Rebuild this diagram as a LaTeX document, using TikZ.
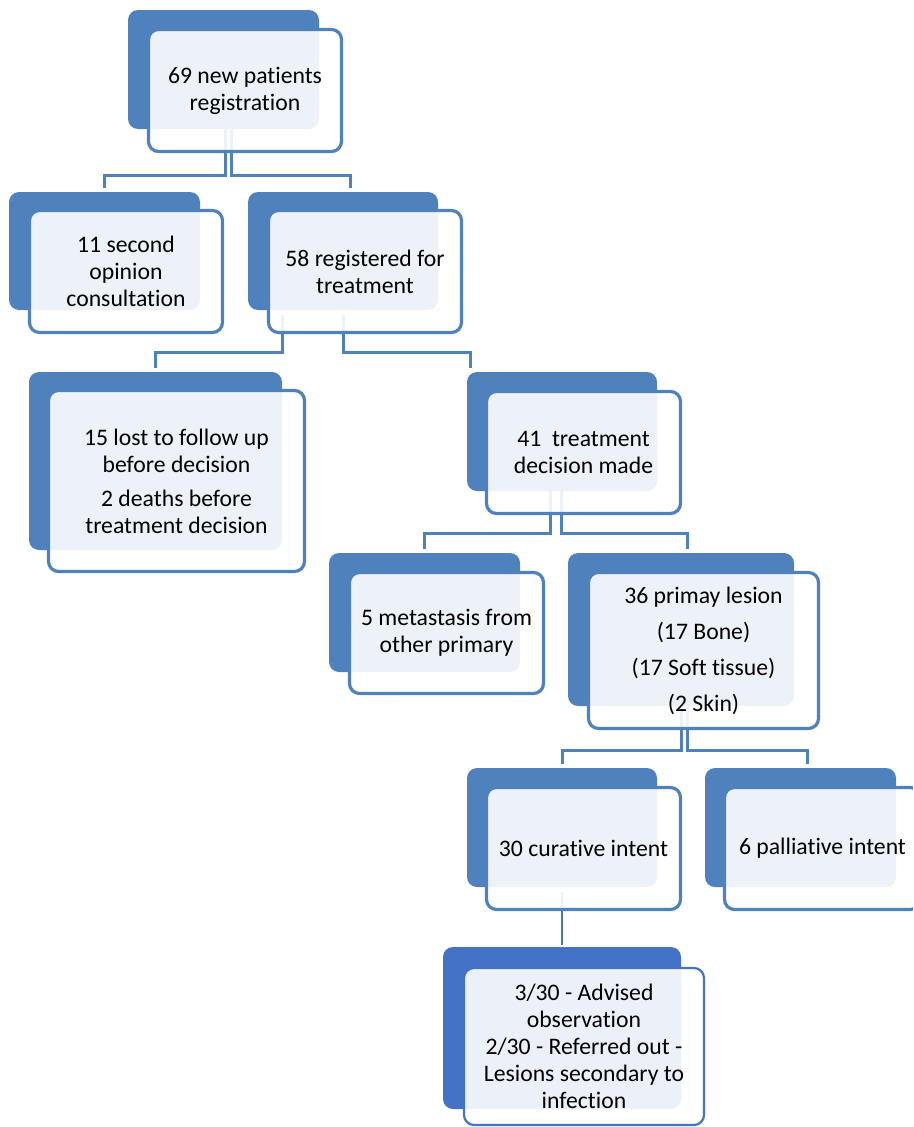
\documentclass[tikz,border=0pt]{standalone}
\usepackage{fontspec}
\setmainfont{Carlito}[Ligatures=NoCommon]
\usetikzlibrary{calc}
\definecolor{boxblue}{HTML}{4F81BD}
\definecolor{lastblue}{HTML}{4472C4}
\pgfdeclarelayer{bg}
\pgfsetlayers{bg,main}
\tikzset{
  backbox/.style={fill=boxblue, draw=none, rounded corners=10pt, anchor=north west, inner sep=0pt, outer sep=0pt},
  frontbox/.style={fill=white, fill opacity=0.9, text opacity=1, draw=boxblue, line width=3.2pt, rounded corners=10pt, anchor=north west, inner sep=0pt, outer sep=0pt, align=center, font=\fontsize{23.7}{27}\selectfont},
  conn/.style={draw=boxblue, line width=3pt},
  thinconn/.style={draw=lastblue, line width=2pt}
}
\begin{document}
\begin{tikzpicture}[x=1pt,y=-1pt]
\path[use as bounding box, clip] (0,0) rectangle (913,1127);
% box 1
\node[backbox, minimum width=191pt, minimum height=119pt] (b1) at (128,10) {};
\node[frontbox, minimum width=193pt, minimum height=122pt] (f1) at (148.5,29.5) {69 new patients\\registration};
% box 2
\node[backbox, minimum width=191pt, minimum height=118pt] (b2) at (9,192) {};
\node[frontbox, minimum width=193pt, minimum height=122pt] (f2) at (29.5,210.5) {11 second\\opinion\\consultation};
% box 3
\node[backbox, minimum width=190pt, minimum height=118pt] (b3) at (248,192) {};
\node[frontbox, minimum width=193pt, minimum height=122pt] (f3) at (268.5,210.5) {58 registered for\\treatment};
% box 4
\node[backbox, minimum width=253pt, minimum height=178pt] (b4) at (29,372) {};
\node[frontbox, minimum width=256pt, minimum height=181pt] (f4) at (48.5,390.5) {15 lost to follow up\\before decision\\[7pt]2 deaths before\\treatment decision};
% box 5
\node[backbox, minimum width=190pt, minimum height=119pt] (b5) at (467,372) {};
\node[frontbox, minimum width=194pt, minimum height=122pt] (f5) at (486.5,391.5) {41\ \ treatment\\decision made};
% box 6
\node[backbox, minimum width=191pt, minimum height=119pt] (b6) at (329,553) {};
\node[frontbox, minimum width=194pt, minimum height=121pt] (f6) at (349.5,572.5) {5 metastasis from\\other primary};
% box 7
\node[backbox, minimum width=226pt, minimum height=153pt] (b7) at (568,553) {};
\node[frontbox, minimum width=230pt, minimum height=156pt] (f7) at (588.5,572.5) {36 primay lesion\\[9pt](17 Bone)\\[9pt](17 Soft tissue)\\[9pt](2 Skin)};
% box 8
\node[backbox, minimum width=190pt, minimum height=119pt] (b8) at (467,768) {};
\node[frontbox, minimum width=194pt, minimum height=122pt] (f8) at (486.5,787.5) {30 curative intent};
% box 9
\node[backbox, minimum width=191pt, minimum height=119pt] (b9) at (705,768) {};
\node[frontbox, minimum width=196pt, minimum height=122pt] (f9) at (724.5,787.5) {6 palliative intent};
% box 10
\node[backbox, fill=lastblue, minimum width=238pt, minimum height=162pt] (b10) at (443,947) {};
\node[frontbox, draw=lastblue, line width=2.2pt, minimum width=240pt, minimum height=157pt] (f10) at (464,968) {3/30 - Advised\\observation\\2/30 - Referred out -\\Lesions secondary to\\infection};
% connectors
\begin{pgfonlayer}{bg}
\draw[conn] ([xshift=2pt]b1.south) -- ++(0,46) -| ([yshift=4pt]b2.north);
\draw[conn] ([xshift=8pt]b1.south) -- ++(0,46) -| ([xshift=7pt,yshift=4pt]b3.north);
\draw[conn] ([xshift=-61pt,yshift=-5pt]b3.south) -- ++(0,37) -| ([yshift=4pt]b4.north);
\draw[conn] ([yshift=-5pt]b3.south) -- ++(0,37) -| ([xshift=3pt,yshift=4pt]b5.north west);
\draw[conn] ([xshift=-12pt]b5.south) -- ++(0,42) -| ([yshift=4pt]b6.north);
\draw[conn] ([xshift=-0.5pt]b5.south) -- ++(0,42) -| ([xshift=6pt,yshift=4pt]b7.north);
\draw[conn] ([xshift=0.5pt]b7.south) -- ++(0,44) -| ([yshift=4pt]b8.north);
\draw[conn] ([xshift=6.5pt]b7.south) -- ++(0,44) -| ([xshift=6.5pt,yshift=4pt]b9.north);
\draw[thinconn] ([yshift=-5pt]b8.south) -- ([yshift=2pt]b10.north);
\end{pgfonlayer}
\end{tikzpicture}
\end{document}
